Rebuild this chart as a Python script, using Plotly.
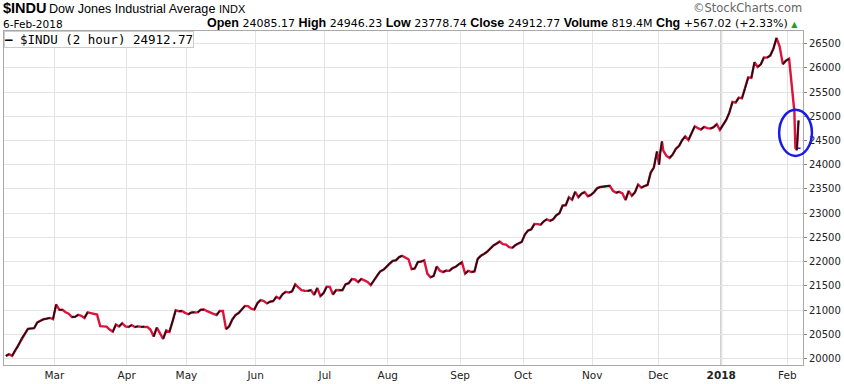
import pandas as pd
import plotly.graph_objects as go

# ---------------- data ----------------
holidays = ["2017-02-20", "2017-04-14", "2017-05-29", "2017-07-04", "2017-09-04",
            "2017-11-23", "2017-12-25", "2018-01-01", "2018-01-15"]

feb17 = [20052, 20090, 20054, 20172, 20269, 20412, 20504, 20612, 20620, 20624, 20743,
         20776, 20810, 20822, 20837, 20812]
mar17 = [21116, 21003, 21006, 20954, 20925, 20856, 20858, 20903, 20881, 20837, 20950,
         20935, 20915, 20906, 20668, 20661, 20657, 20597, 20551, 20702, 20659, 20728, 20663]
apr17 = [20650, 20689, 20648, 20663, 20656, 20658, 20651, 20592, 20453, 20637, 20523,
         20404, 20579, 20548, 20764, 20996, 20975, 20981, 20941]
may17 = [20913, 20950, 20958, 20951, 21007, 21012, 20976, 20943, 20919, 20897, 20982,
         20980, 20607, 20663, 20805, 20895, 20938, 21012, 21083, 21080, 21029, 21009]
jun17 = [21144, 21206, 21184, 21136, 21174, 21183, 21272, 21236, 21328, 21375, 21360,
         21384, 21529, 21467, 21410, 21397, 21395, 21410, 21311, 21455, 21287, 21350]
jul17 = [21479, 21478, 21320, 21414, 21409, 21409, 21532, 21553, 21638, 21630, 21575,
         21641, 21612, 21580, 21513, 21613, 21711, 21797, 21830, 21891]
aug17 = [21964, 22016, 22026, 22093, 22118, 22085, 22049, 21844, 21858, 21994, 21999,
         22025, 21751, 21675, 21704, 21900, 21812, 21783, 21814, 21808, 21865, 21892, 21948]
sep17 = [21988, 21753, 21808, 21785, 21798, 22057, 22119, 22158, 22203, 22268, 22331,
         22371, 22413, 22359, 22350, 22296, 22284, 22341, 22381, 22405]
oct17 = [22558, 22642, 22662, 22775, 22774, 22761, 22831, 22873, 22841, 22872, 22957,
         22997, 23158, 23163, 23329, 23274, 23442, 23329, 23401, 23434, 23349, 23377]
nov17 = [23435, 23516, 23539, 23548, 23557, 23563, 23462, 23422, 23440, 23409, 23271,
         23458, 23358, 23430, 23591, 23526, 23558, 23581, 23837, 23941, 24272]
dec17 = [24232, 24290, 24181, 24141, 24211, 24329, 24386, 24505, 24585, 24509, 24652,
         24792, 24755, 24727, 24782, 24754, 24746, 24774, 24838, 24719]
jan18 = [24824, 24923, 25075, 25296, 25283, 25386, 25369, 25575, 25803, 25793, 26116,
         26018, 26072, 26215, 26211, 26252, 26393, 26617, 26439, 26077, 26149]
feb18 = [26187, 25521, 24346, 24913]

# a few 2-hour bars that stand out from the closes
intraday_times = ["2017-12-01 06:00", "2017-12-04 04:00", "2018-02-05 06:00", "2018-02-06 01:00"]
intraday_values = [24000, 24480, 25100, 24300]

tick_dates = ["2017-03-01", "2017-04-03", "2017-05-01", "2017-06-01", "2017-07-03",
              "2017-08-01", "2017-09-01", "2017-10-02", "2017-11-01", "2017-12-01",
              "2018-01-02", "2018-02-01"]
tick_labels = ["Mar", "Apr", "May", "Jun", "Jul", "Aug", "Sep", "Oct", "Nov", "Dec",
               "<b>2018</b>", "Feb"]

last_price = 24340

# ---------------- build series ----------------
closes = feb17 + mar17 + apr17 + may17 + jun17 + jul17 + aug17 + sep17 + oct17 + nov17 + dec17 + jan18 + feb18
days = pd.bdate_range("2017-02-06", "2018-02-06", freq="C", holidays=holidays)
assert len(days) == len(closes), (len(days), len(closes))
close_times = days + pd.Timedelta(hours=14)

s = pd.concat([pd.Series(closes, index=close_times),
               pd.Series(intraday_values, index=pd.to_datetime(intraday_times))]).sort_index()
xs = list(s.index)
ys = list(s.values)

# up-move segments (black) over a red base line
bx, by = [], []
for i in range(1, len(ys)):
    if ys[i] >= ys[i - 1]:
        bx += [xs[i - 1], xs[i], None]
        by += [ys[i - 1], ys[i], None]

RED = "#dc143c"

fig = go.Figure()
fig.add_trace(go.Scatter(x=xs, y=ys, mode="lines", line=dict(color=RED, width=2.4),
                         hoverinfo="skip", showlegend=False))
fig.add_trace(go.Scatter(x=bx, y=by, mode="lines", line=dict(color="#111111", width=1.6),
                         hoverinfo="skip", showlegend=False, connectgaps=False))

# plot-area geometry in pixels (for header placement)
W, H = 844, 384
ML, MR, MT, MB = 3, 37, 31, 16
PW, PH = W - ML - MR, H - MT - MB


def px(x):
    return (x - ML) / PW


def py(y):
    return (H - MB - y) / PH


grid = "#e4e4e4"
frame = "#a9a9a9"

LBL = "<span style='font-family:Liberation Sans;font-size:12.5px'><b>{}</b></span>"
stats = (LBL.format("Open") + " 24085.17 " + LBL.format("High") + " 24946.23 "
         + LBL.format("Low") + " 23778.74 " + LBL.format("Close") + " 24912.77 "
         + LBL.format("Volume") + " 819.4M " + LBL.format("Chg") + " +567.02 (+2.33%) "
         + "<span style='color:#2a9a2a;font-size:8px'>▲</span>")

fig.update_layout(
    width=W, height=H, autosize=False,
    margin=dict(l=ML, r=MR, t=MT, b=MB, pad=0),
    paper_bgcolor="white", plot_bgcolor="white",
    showlegend=False,
    xaxis=dict(
        type="date",
        range=["2017-02-06", "2018-02-08"],
        rangebreaks=[dict(bounds=["sat", "mon"]), dict(values=holidays)],
        tickmode="array", tickvals=tick_dates, ticktext=tick_labels,
        showgrid=True, gridcolor=grid, gridwidth=1,
        showline=True, linecolor=frame, linewidth=1, mirror=True,
        ticks="", tickfont=dict(family="DejaVu Sans", size=10.5, color="#222222"),
        zeroline=False,
    ),
    yaxis=dict(
        side="right",
        range=[19865, 26760],
        tick0=20000, dtick=500, tickformat="d",
        showgrid=True, gridcolor=grid, gridwidth=1,
        showline=True, linecolor=frame, linewidth=1, mirror=True,
        ticks="outside", ticklen=3, tickcolor="#888888",
        tickfont=dict(family="DejaVu Sans", size=10, color="#222222"),
        zeroline=False,
    ),
    shapes=[
        dict(type="line", xref="x", yref="paper", x0="2018-01-02", x1="2018-01-02",
             y0=0, y1=1, line=dict(color="#c4c4c4", width=2), layer="below"),
        dict(type="line", xref="x", yref="y", x0="2018-02-06 06:00", x1="2018-02-07 12:00",
             y0=last_price, y1=last_price, line=dict(color="#1f1fe0", width=1.5, dash="dot")),
        dict(type="circle", xref="paper", yref="paper",
             x0=px(783), x1=px(816), y0=py(157), y1=py(110.5),
             line=dict(color="#1a1ae6", width=2.5)),
    ],
    annotations=[
        dict(xref="paper", yref="paper", x=px(0), y=py(7.8), xanchor="left", yanchor="middle",
             text="<b>$INDU</b>", showarrow=False,
             font=dict(family="Liberation Sans", size=14.5, color="black")),
        dict(xref="paper", yref="paper", x=px(46.5), y=py(8.4), xanchor="left", yanchor="middle",
             text="Dow Jones Industrial Average", showarrow=False,
             font=dict(family="Liberation Sans", size=12.6, color="black")),
        dict(xref="paper", yref="paper", x=px(217.5), y=py(8.6), xanchor="left", yanchor="middle",
             text="INDX", showarrow=False,
             font=dict(family="Liberation Sans", size=11, color="black")),
        dict(xref="paper", yref="paper", x=px(-0.5), y=py(23.5), xanchor="left", yanchor="middle",
             text="6-Feb-2018", showarrow=False,
             font=dict(family="DejaVu Sans", size=10.5, color="black")),
        dict(xref="paper", yref="paper", x=px(804), y=py(23.3), xanchor="right", yanchor="middle",
             text=stats, showarrow=False,
             font=dict(family="DejaVu Sans", size=11, color="black")),
        dict(xref="paper", yref="paper", x=px(808), y=py(7.5), xanchor="right", yanchor="middle",
             text="©StockCharts.com", showarrow=False,
             font=dict(family="DejaVu Sans", size=11.5, color="#666666")),
        dict(xref="paper", yref="paper", x=0, y=1, xanchor="left", yanchor="top",
             text="<b>—</b> $INDU (2 hour) 24912.77", showarrow=False,
             font=dict(family="DejaVu Sans Mono", size=12.5, color="black"),
             bgcolor="white", bordercolor="#cccccc", borderwidth=1, borderpad=0),
    ],
)

fig.write_html("out.html",
               config={"displayModeBar": False},
               post_script="document.body.style.margin='0';document.body.style.overflow='hidden';")
